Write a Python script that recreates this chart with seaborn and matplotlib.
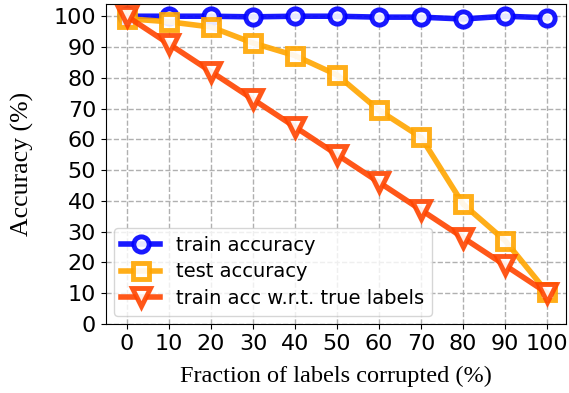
import matplotlib
matplotlib.use("Agg")
import matplotlib.pyplot as plt
import seaborn as sns
import pandas as pd

fraction = [0, 10, 20, 30, 40, 50, 60, 70, 80, 90, 100]
train_acc = [100, 100, 100, 99.8, 100, 100, 99.7, 99.7, 99.1, 100, 99.5]
test_acc = [99.2, 98.2, 96.5, 91.3, 87.2, 80.9, 69.4, 60.6, 38.9, 27.0, 10.2]
train_true = [100, 91, 82, 73, 64, 55, 46, 37, 28, 19, 10]
labels = ["train accuracy", "test accuracy", "train acc w.r.t. true labels"]

df = pd.DataFrame({"fraction": fraction, "train": train_acc, "test": test_acc, "true": train_true})

fig, ax = plt.subplots(figsize=(5.69, 3.93), dpi=100)
styles = [("train", "o", "#0000ff", 11), ("test", "s", "#ffa500", 11), ("true", "v", "#ff4500", 13)]
for (col, m, c, ms), lab in zip(styles, labels):
    sns.lineplot(data=df, x="fraction", y=col, ax=ax, color=c, marker=m, markersize=ms,
                 markerfacecolor="white", markeredgecolor=c, markeredgewidth=3.5,
                 linewidth=4, alpha=0.9, label=lab)

ax.set_xlim(-5, 104.5)
ax.set_ylim(0, 104)
ax.set_xticks(fraction)
ax.set_yticks(range(0, 101, 10))
ax.tick_params(labelsize=16)
ax.grid(True, linestyle="--", color="#b0b0b0", linewidth=1)
ax.set_axisbelow(True)
ax.set_xlabel("Fraction of labels corrupted (%)", fontsize=17.5, family="Liberation Serif", labelpad=9)
ax.set_ylabel("Accuracy (%)", fontsize=18.5, family="Liberation Serif", labelpad=14)
ax.legend(loc="lower left", fontsize=14, handlelength=2, borderaxespad=0.4, labelspacing=0.4)
fig.subplots_adjust(left=0.186, right=0.995, top=0.99, bottom=0.176)
fig.savefig("out.png", dpi=100)
